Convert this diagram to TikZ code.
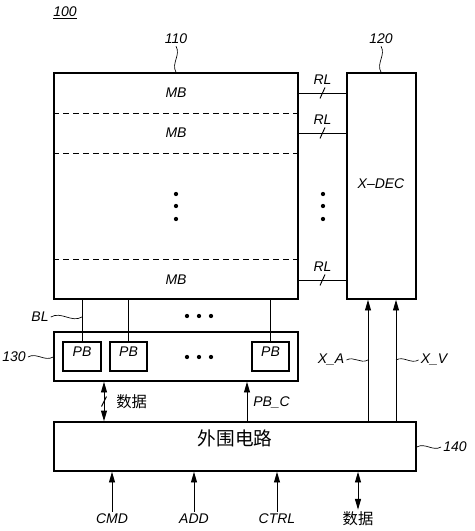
\documentclass[tikz,border=0pt]{standalone}
\usepackage{fontspec}
\setmainfont{Liberation Sans}
\newfontfamily\cjkfont{Noto Sans CJK SC}
\usetikzlibrary{arrows.meta, positioning, fit, calc}

\begin{document}
\begin{tikzpicture}[x=0.75pt, y=-0.75pt,
    every node/.style={font=\fontsize{10.5}{12}\selectfont\itshape, inner sep=1.5pt},
    blk/.style={draw, line width=1.2pt, inner sep=0pt},
    wire/.style={line width=0.7pt},
    sig/.style={line width=0.7pt, -{Triangle[length=8pt,width=4.5pt]}},
    bisig/.style={line width=0.7pt, {Triangle[length=8pt,width=4.5pt]}-{Triangle[length=8pt,width=4.5pt]}},
    sepline/.style={line width=0.7pt, dash pattern=on 4.5pt off 3pt},
    cjk/.style={font=\fontsize{11.5}{13}\selectfont\cjkfont},
    leader/.style={line width=0.5pt}]

    \useasboundingbox (0,0) rectangle (474,531);

    % blocks
    \node[blk, fit={(54,73) (298,299)}] (array) {};
    \node[blk, fit={(347,73) (416,299)}] (xdec) {};
    \node[blk, fit={(54,332) (298,381)}] (pbuf) {};
    \node[blk, fit={(54,422) (416,471)}, font=\fontsize{14}{16}\selectfont\cjkfont] (periph) {外围电路};
    \node[blk, fit={(63,342) (101,371)}] (pb1) {PB};
    \node[blk, fit={(110,342) (147,371)}] (pb2) {PB};
    \node[blk, fit={(252,342) (289,371)}] (pb3) {PB};

    \node (xdeclbl) at (381,184) {X--DEC};

    % memory blocks
    \draw[sepline] (array.west |- 0,113) -- (array.east |- 0,113);
    \draw[sepline] (array.west |- 0,153) -- (array.east |- 0,153);
    \draw[sepline] (array.west |- 0,259) -- (array.east |- 0,259);
    \node (mb1) at (176,93)  {MB};
    \node (mb2) at (176,133) {MB};
    \node (mb3) at (176,280) {MB};

    % row lines
    \foreach \m in {mb1, mb2, mb3} {
        \draw[wire] (\m -| array.east) -- coordinate[pos=0.5] (rl-\m) (\m -| xdec.west);
        \draw[wire] ($(rl-\m)+(-2.5,5.5)$) -- ($(rl-\m)+(2.5,-5.5)$);
        \node (rllbl-\m) at ($(rl-\m)+(0,-13)$) {RL};
    }

    % dots
    \foreach \y in {194,206,219} {
        \fill (176,\y) circle[radius=1.6pt];
        \fill (323,\y) circle[radius=1.6pt];
    }
    \foreach \x in {187,199,211} {
        \fill (\x,316) circle[radius=1.6pt];
        \fill (\x,357) circle[radius=1.6pt];
    }

    % bit lines
    \foreach \p in {pb1, pb2, pb3}
        \draw[wire] (\p.north) -- (\p.north |- array.south);

    % labels
    \node (lbl100) at (65,13) {\underline{100}};
    \node (lbl110) at (176,39) {110};
    \node (lbl120) at (381,39) {120};
    \node (lbl130) at (14,357) {130};
    \node (lbl140) at (455,447) {140};
    \node (lblbl)  at (40,317) {BL};
    \draw[leader] (lbl110.south) to[out=-60,in=120] (lbl110.south |- array.north);
    \draw[leader] (lbl120.south) to[out=-60,in=120] (lbl120.south |- xdec.north);
    \draw[leader] (lbl130.east) to[out=30,in=210] (lbl130.east -| pbuf.west);
    \draw[leader] (lbl140.west -| periph.east) to[out=30,in=210] (lbl140.west);
    \draw[leader] (lblbl.east) to[out=30,in=210] (lblbl.east -| pb1.north);

    % signals between blocks
    \coordinate (dqx) at (104,0);
    \coordinate (pbcx) at (247,0);
    \coordinate (xax) at (368,0);
    \coordinate (xvx) at (396,0);

    \draw[bisig] (dqx |- pbuf.south) -- coordinate[pos=0.5] (dqmid) (dqx |- periph.north);
    \draw[wire] ($(dqmid)+(-2.5,5)$) -- ($(dqmid)+(2.5,-5)$);
    \node[cjk, anchor=west] (dqlbl) at (114,402) {数据};

    \draw[sig] (pbcx |- periph.north) -- (pbcx |- pbuf.south);
    \node[anchor=west] (pbclbl) at (251,402) {PB\_C};

    \draw[sig] (xax |- periph.north) -- (xax |- xdec.south);
    \draw[sig] (xvx |- periph.north) -- (xvx |- xdec.south);
    \node (xalbl) at (331,360) {X\_A};
    \node (xvlbl) at (434,360) {X\_V};
    \draw[leader] (xalbl.east) to[out=30,in=210] (xalbl.east -| xax);
    \draw[leader] (xvlbl.west -| xvx) to[out=30,in=210] (xvlbl.west);

    % inputs
    \node (cmd)  at (112,519) {CMD};
    \node (add)  at (194,519) {ADD};
    \node (ctrl) at (277,519) {CTRL};
    \node[cjk] (dqin) at (358,519) {数据};
    \draw[sig] (cmd.north) -- (cmd.north |- periph.south);
    \draw[sig] (add.north) -- (add.north |- periph.south);
    \draw[sig] (ctrl.north) -- (ctrl.north |- periph.south);
    \draw[bisig] (dqin.north) -- (dqin.north |- periph.south);

\end{tikzpicture}
\end{document}
